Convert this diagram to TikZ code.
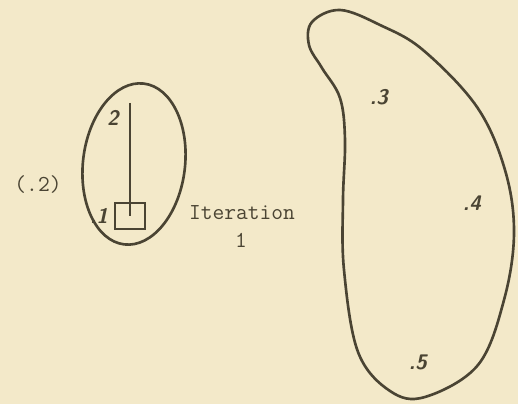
\documentclass[tikz,border=0pt]{standalone}
\usepackage{fontspec}
\usetikzlibrary{positioning}
\definecolor{paper}{HTML}{F3E9C9}
\definecolor{ink}{HTML}{4A4433}

\begin{document}
\begin{tikzpicture}[x=0.02cm,y=-0.02cm,
    pen/.style={draw=ink,line width=1.5pt,line join=round},
    hand/.style={text=ink,font=\sffamily\bfseries\itshape\large,inner sep=1pt},
    typed/.style={text=ink,font=\ttfamily\fontsize{13}{15}\selectfont,inner sep=1pt}]
  % Paper
  \fill[paper] (0,0) rectangle (518,404);
  \useasboundingbox (0,0) rectangle (518,404);

  % Small cluster (left)
  \draw[pen,rotate around={-7:(134,164)}] (134,164) ellipse[x radius=51,y radius=81];
  \node[draw=ink,line width=1.5pt,minimum width=30*0.02cm,minimum height=26*0.02cm,
        inner sep=0pt] (box) at (130,216) {};
  \coordinate (top) at (130,103);
  \draw[ink,line width=1.2pt] (top) -- (box.center);
  \node[hand] (p2) at (113,118) {2};
  \node[hand,left=2pt of box] (p1) {.1};

  % Typed labels
  \node[typed] (dist) at (38,185) {(.2)};
  \node[typed,anchor=west] (iter) at (187,213) {Iteration};
  \node[typed] (iternum) at (241,240) {1};

  % Large cluster (right)
  \draw[pen] plot[smooth cycle,tension=0.6] coordinates {
    (340,10) (380,25) (423,50) (477,107) (505,170) (514,233) (504,300)
    (478,365) (425,397) (390,391) (358,352) (344,270) (343,200) (345,140)
    (340,98) (322,68) (309,45) (312,22)};
  \node[hand] (p3) at (379,97) {.3};
  \node[hand] (p4) at (472,203) {.4};
  \node[hand] (p5) at (418,362) {.5};
\end{tikzpicture}
\end{document}
